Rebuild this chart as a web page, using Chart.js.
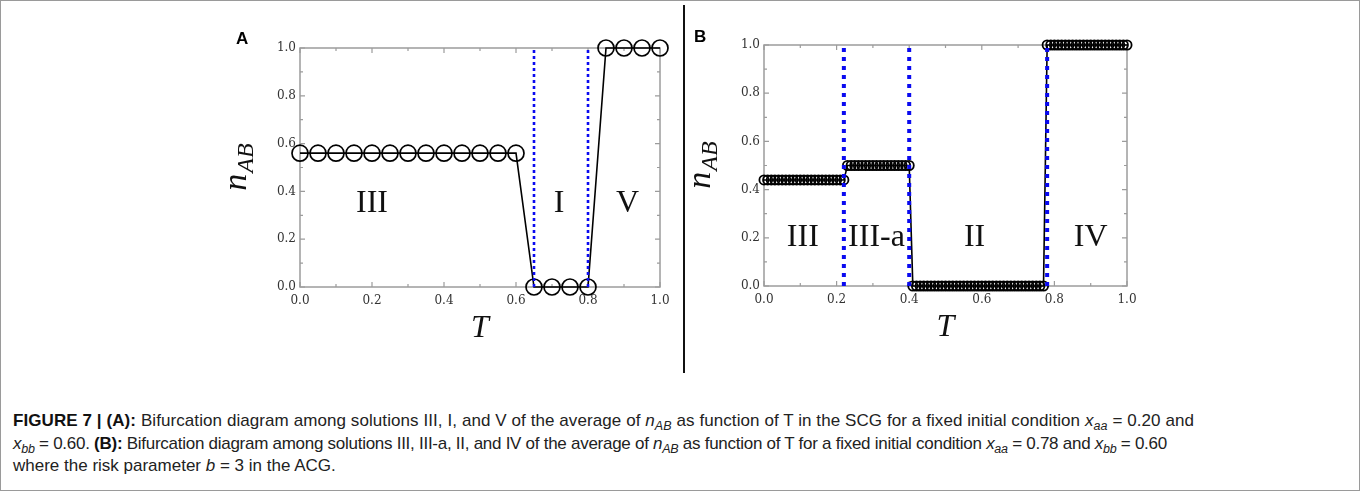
<!DOCTYPE html>
<html>
<head>
<meta charset="utf-8">
<script src="https://cdn.jsdelivr.net/npm/chart.js@4.4.1/dist/chart.umd.min.js"></script>
<style>
  html, body { margin: 0; padding: 0; background: #fff; }
  .figure { position: relative; width: 1360px; height: 491px; box-sizing: border-box;
    border: 1px solid #9a9a9a; overflow: hidden; }
  .panel { position: absolute; width: 480px; height: 340px; top: 10px; }
  .panel-a { left: 200px; }
  .panel-b { left: 664px; }
  .tag { position: absolute; font: bold 17px "Liberation Sans", Arial, sans-serif; line-height: 17px; color: #000; }
  .divider { position: absolute; left: 682px; top: 4px; width: 2px; height: 368px; background: #111; }
  .caption { position: absolute; left: 12px; top: 409px; font: 17px "Liberation Sans", Arial, sans-serif;
    color: #222; line-height: 22.5px; }
  .caption div { white-space: nowrap; }
  .caption .l1 { letter-spacing: 0.08px; }
  .caption .l2 { letter-spacing: -0.27px; }
  .caption b { font-weight: bold; color: #111; }
  .caption sub { font-size: 12.5px; vertical-align: -4px; line-height: 0; }
</style>
</head>
<body>
<div class="figure">
  <div class="panel panel-a"><canvas id="chartA" width="480" height="340"></canvas></div>
  <div class="panel panel-b"><canvas id="chartB" width="480" height="340"></canvas></div>
  <div class="divider"></div>
  <div class="tag" style="left:235px; top:29px;">A</div>
  <div class="tag" style="left:693px; top:27px;">B</div>
  <div class="caption">
    <div class="l1"><b>FIGURE 7 | (A):</b> Bifurcation diagram among solutions III, I, and V of the average of <i>n</i><sub><i>AB</i></sub> as function of T in the SCG for a fixed initial condition <i>x</i><sub><i>aa</i></sub> = 0.20 and</div>
    <div class="l2"><i>x</i><sub><i>bb</i></sub> = 0.60. <b>(B):</b> Bifurcation diagram among solutions III, III-a, II, and IV of the average of <i>n</i><sub><i>AB</i></sub> as function of T for a fixed initial condition <i>x</i><sub><i>aa</i></sub> = 0.78 and <i>x</i><sub><i>bb</i></sub> = 0.60</div>
    <div>where the risk parameter <i>b</i> = 3 in the ACG.</div>
  </div>
</div>
<script>
// Panel A: SCG, x_aa = 0.20, x_bb = 0.60
const tA = [0.00, 0.05, 0.10, 0.15, 0.20, 0.25, 0.30, 0.35, 0.40, 0.45, 0.50, 0.55, 0.60,
            0.65, 0.70, 0.75, 0.80, 0.85, 0.90, 0.95, 1.00];
const nA = [0.56, 0.56, 0.56, 0.56, 0.56, 0.56, 0.56, 0.56, 0.56, 0.56, 0.56, 0.56, 0.56,
            0, 0, 0, 0, 1, 1, 1, 1];
const boundsA = [0.65, 0.80];
const regionsA = ["III", "I", "V"];
const regionTA = [0.20, 0.72, 0.91];
const regionNA = [0.35, 0.35, 0.35];

// Panel B: ACG, x_aa = 0.78, x_bb = 0.60, b = 3
const tB = [0.00, 0.01, 0.02, 0.03, 0.04, 0.05, 0.06, 0.07, 0.08, 0.09,
            0.10, 0.11, 0.12, 0.13, 0.14, 0.15, 0.16, 0.17, 0.18, 0.19,
            0.20, 0.21, 0.22, 0.23, 0.24, 0.25, 0.26, 0.27, 0.28, 0.29,
            0.30, 0.31, 0.32, 0.33, 0.34, 0.35, 0.36, 0.37, 0.38, 0.39,
            0.40, 0.41, 0.42, 0.43, 0.44, 0.45, 0.46, 0.47, 0.48, 0.49,
            0.50, 0.51, 0.52, 0.53, 0.54, 0.55, 0.56, 0.57, 0.58, 0.59,
            0.60, 0.61, 0.62, 0.63, 0.64, 0.65, 0.66, 0.67, 0.68, 0.69,
            0.70, 0.71, 0.72, 0.73, 0.74, 0.75, 0.76, 0.77, 0.78, 0.79,
            0.80, 0.81, 0.82, 0.83, 0.84, 0.85, 0.86, 0.87, 0.88, 0.89,
            0.90, 0.91, 0.92, 0.93, 0.94, 0.95, 0.96, 0.97, 0.98, 0.99, 1.00];
const nB = [0.44, 0.44, 0.44, 0.44, 0.44, 0.44, 0.44, 0.44, 0.44, 0.44,
            0.44, 0.44, 0.44, 0.44, 0.44, 0.44, 0.44, 0.44, 0.44, 0.44,
            0.44, 0.44, 0.44, 0.50, 0.50, 0.50, 0.50, 0.50, 0.50, 0.50,
            0.50, 0.50, 0.50, 0.50, 0.50, 0.50, 0.50, 0.50, 0.50, 0.50,
            0.50, 0, 0, 0, 0, 0, 0, 0, 0, 0,
            0, 0, 0, 0, 0, 0, 0, 0, 0, 0,
            0, 0, 0, 0, 0, 0, 0, 0, 0, 0,
            0, 0, 0, 0, 0, 0, 0, 0, 1, 1,
            1, 1, 1, 1, 1, 1, 1, 1, 1, 1,
            1, 1, 1, 1, 1, 1, 1, 1, 1, 1, 1];
const boundsB = [0.22, 0.40, 0.78];
const regionsB = ["III", "III-a", "II", "IV"];
const regionTB = [0.107, 0.31, 0.58, 0.90];
const regionNB = [0.20, 0.20, 0.20, 0.20];

const AXIS_GREY = "#9c9c9c";
const BLUE = "#0a0af0";
const serif = '"Liberation Serif", "Times New Roman", serif';

// boxed axes with inward ticks on all four sides
const frameTicks = {
  id: "frameTicks",
  beforeDatasetsDraw(chart) {
    const { ctx, chartArea: a, scales } = chart;
    ctx.save();
    ctx.strokeStyle = AXIS_GREY;
    ctx.lineWidth = 1.5;
    ctx.strokeRect(a.left, a.top, a.right - a.left, a.bottom - a.top);
    ctx.lineWidth = 1.2;
    ctx.beginPath();
    scales.x.ticks.forEach((t) => {
      const px = scales.x.getPixelForValue(t.value);
      const len = Math.round(t.value * 10) % 2 === 0 ? 5 : 3;
      ctx.moveTo(px, a.bottom); ctx.lineTo(px, a.bottom - len);
      ctx.moveTo(px, a.top); ctx.lineTo(px, a.top + len);
    });
    scales.y.ticks.forEach((t) => {
      const py = scales.y.getPixelForValue(t.value);
      const len = Math.round(t.value * 10) % 2 === 0 ? 5 : 3;
      ctx.moveTo(a.left, py); ctx.lineTo(a.left + len, py);
      ctx.moveTo(a.right, py); ctx.lineTo(a.right - len, py);
    });
    ctx.stroke();
    ctx.restore();
  },
};

// axis titles and regime labels
const annotations = {
  id: "annotations",
  afterDraw(chart, args, opts) {
    const { ctx, chartArea: a, scales } = chart;
    ctx.save();
    ctx.fillStyle = "#111";

    // regime names
    ctx.font = `32px ${serif}`;
    ctx.textAlign = "center";
    ctx.textBaseline = "middle";
    opts.labels.forEach((txt, i) => {
      ctx.fillText(txt, scales.x.getPixelForValue(opts.t[i]), scales.y.getPixelForValue(opts.n[i]));
    });

    // x title
    ctx.font = `italic 32px ${serif}`;
    ctx.textBaseline = "alphabetic";
    ctx.fillText("T", (a.left + a.right) / 2, a.bottom + 50);

    // y title n_AB, rotated
    ctx.translate(a.left - 54, (a.top + a.bottom) / 2);
    ctx.rotate(-Math.PI / 2);
    ctx.textAlign = "left";
    ctx.font = `italic 34px ${serif}`;
    const wN = ctx.measureText("n").width;
    ctx.font = `italic 24px ${serif}`;
    const wSub = ctx.measureText("AB").width;
    const x0 = -(wN + wSub) / 2;
    ctx.font = `italic 34px ${serif}`;
    ctx.fillText("n", x0, 0);
    ctx.font = `italic 24px ${serif}`;
    ctx.fillText("AB", x0 + wN + 1, 7);
    ctx.restore();
  },
};

function buildChart(canvasId, t, n, bounds, cfg) {
  const points = t.map((x, i) => ({ x, y: n[i] }));
  const boundSets = bounds.map((b) => ({
    data: [{ x: b, y: 0 }, { x: b, y: 1 }],
    showLine: true,
    borderColor: BLUE,
    borderWidth: cfg.dashWidth,
    borderDash: cfg.dash,
    borderCapStyle: "butt",
    pointRadius: 0,
    clip: false,
    order: 0,
  }));

  const tickLabel = (v) => (Math.round(v * 10) % 2 === 0 ? v.toFixed(1) : "");

  return new Chart(document.getElementById(canvasId), {
    type: "scatter",
    data: {
      datasets: [
        ...boundSets,
        {
          data: points,
          showLine: true,
          borderColor: "#000",
          borderWidth: 1.6,
          pointRadius: cfg.radius,
          pointBorderWidth: cfg.pointBorder,
          pointBorderColor: "#000",
          pointBackgroundColor: "rgba(0,0,0,0)",
          clip: false,
          order: 1,
        },
      ],
    },
    options: {
      responsive: false,
      animation: false,
      layout: { padding: { top: cfg.padTop, right: cfg.padRight, left: 0, bottom: 0 } },
      plugins: {
        legend: { display: false },
        tooltip: { enabled: false },
        annotations: { labels: cfg.labels, t: cfg.labelT, n: cfg.labelN },
      },
      scales: {
        x: {
          type: "linear",
          min: 0,
          max: 1,
          border: { display: false },
          grid: { display: false, drawTicks: false },
          ticks: {
            stepSize: 0.1,
            autoSkip: false,
            maxRotation: 0,
            padding: 7,
            color: "#333",
            font: { family: "DejaVu Serif", size: 12 },
            callback: tickLabel,
          },
          afterFit(scale) { scale.height = cfg.xHeight; },
        },
        y: {
          min: 0,
          max: 1,
          border: { display: false },
          grid: { display: false, drawTicks: false },
          ticks: {
            stepSize: 0.1,
            autoSkip: false,
            padding: 4,
            color: "#333",
            font: { family: "DejaVu Serif", size: 12 },
            callback: tickLabel,
          },
          afterFit(scale) { scale.width = 99; },
        },
      },
    },
    plugins: [frameTicks, annotations],
  });
}

buildChart("chartA", tA, nA, boundsA, {
  radius: 8, pointBorder: 1.7, dash: [3, 3], dashWidth: 2.6,
  padTop: 37, padRight: 21, xHeight: 64,
  labels: regionsA, labelT: regionTA, labelN: regionNA,
});

buildChart("chartB", tB, nB, boundsB, {
  radius: 4.6, pointBorder: 1.8, dash: [4, 5], dashWidth: 4,
  padTop: 34, padRight: 18, xHeight: 65,
  labels: regionsB, labelT: regionTB, labelN: regionNB,
});
</script>
</body>
</html>
